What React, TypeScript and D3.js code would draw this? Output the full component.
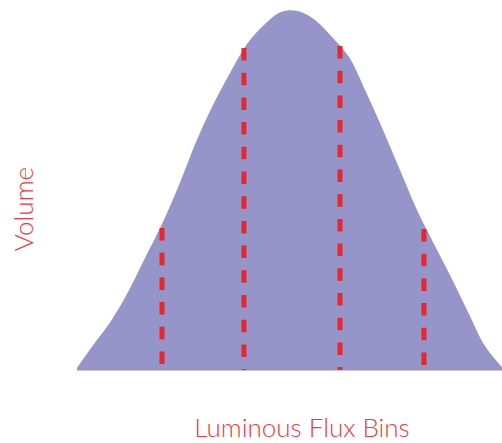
import React from "react";
import * as d3 from "d3";

// Histogram-like distribution: bin index -> volume
const bins = [0, 1, 2, 3, 4, 5, 6, 7, 8, 9, 10, 11, 12, 13, 14, 15, 16, 17, 18, 19, 20, 21, 22, 23, 24, 25];
const volumes = [2, 26, 49, 78, 112, 146, 185, 228, 265, 297, 326, 345, 358, 359, 350, 333, 313, 278, 240, 200, 160, 126, 93, 58, 24, 3];

// Bin boundaries (red dashed lines)
const cutPositions = [5.0, 9.82, 15.47, 20.41];
const cutHeights = [142, 322, 324, 141];

const xLabel = "Luminous Flux Bins";
const yLabel = "Volume";

export default function App() {
  const W = 502, H = 443;
  const x = d3.scaleLinear().domain([0, 25]).range([77, 502]);
  const y = d3.scaleLinear().domain([0, 360]).range([370, 10]);

  const data = bins.map((b, i) => ({ b, v: volumes[i] }));
  const area = d3
    .area<{ b: number; v: number }>()
    .x((d) => x(d.b))
    .y0(y(0))
    .y1((d) => y(d.v))
    .curve(d3.curveCatmullRom.alpha(0.5));

  const red = "#e8262e";
  const font = "Lato, 'Open Sans', sans-serif";

  return (
    <svg
      width={W}
      height={H}
      style={{ position: "absolute", left: 0, top: 0, background: "#fff" }}
    >
      <path d={area(data) || ""} fill="#9595c9" />
      <line x1={x(0)} x2={x(25)} y1={y(0) + 0.5} y2={y(0) + 0.5} stroke="#c8c8e6" strokeWidth={1} />
      {cutPositions.map((c, i) => (
        <line
          key={i}
          x1={x(c)}
          x2={x(c)}
          y1={y(cutHeights[i])}
          y2={y(0)}
          stroke={red}
          strokeWidth={5}
          strokeDasharray="12.5,12.2"
        />
      ))}
      <text
        x={302}
        y={437}
        textAnchor="middle"
        fontFamily={font}
        fontWeight={300}
        fontSize={26}
        fill="#ee3a44"
      >
        {xLabel}
      </text>
      <text
        transform={`translate(33,209) rotate(-90)`}
        textAnchor="middle"
        fontFamily={font}
        fontWeight={300}
        fontSize={26}
        fill="#ee3a44"
      >
        {yLabel}
      </text>
    </svg>
  );
}
